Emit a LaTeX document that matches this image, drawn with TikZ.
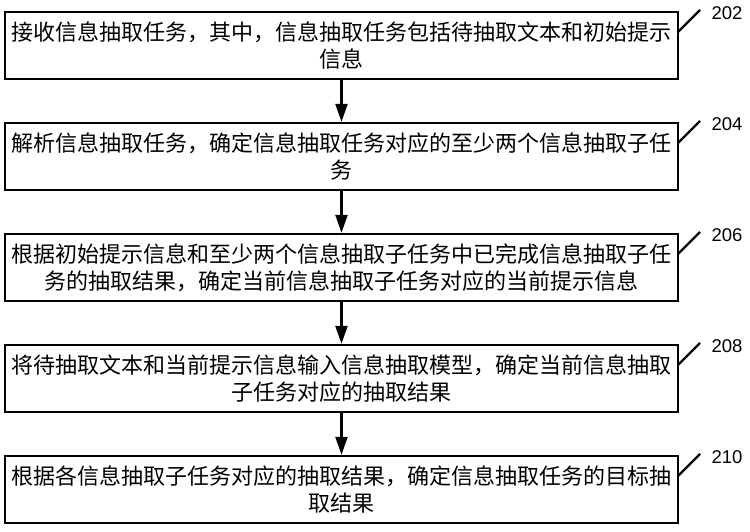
\documentclass[tikz,border=0pt]{standalone}
\usepackage{fontspec}
\setmainfont{Noto Sans CJK SC}
\newfontfamily\numfont{Liberation Sans}
\usetikzlibrary{arrows.meta}
\begin{document}
\begin{tikzpicture}[x=1pt,y=-1pt,
  stepbox/.style={draw=black, line width=2.4pt, minimum width=673pt, minimum height=67pt,
    inner sep=0pt, align=center, font=\fontsize{22}{27}\selectfont},
  flowarrow/.style={line width=2.4pt, -{Triangle[length=18pt,width=12pt]}},
  leader/.style={line width=2.2pt},
  numlabel/.style={font=\numfont\fontsize{18.5}{20}\selectfont, inner sep=0pt}
]
\useasboundingbox (0,0) rectangle (750,532);
\fill[white] (0,0) rectangle (750,532);

\node[stepbox] (b1) at (341.5,45.5) {接收信息抽取任务，其中，信息抽取任务包括待抽取文本和初始提示\\信息};
\node[stepbox] (b2) at (341.5,156.5) {解析信息抽取任务，确定信息抽取任务对应的至少两个信息抽取子任\\务};
\node[stepbox] (b3) at (341.5,267.5) {根据初始提示信息和至少两个信息抽取子任务中已完成信息抽取子任\\务的抽取结果，确定当前信息抽取子任务对应的当前提示信息};
\node[stepbox] (b4) at (341.5,378.5) {将待抽取文本和当前提示信息输入信息抽取模型，确定当前信息抽取\\子任务对应的抽取结果};
\node[stepbox] (b5) at (341.5,489.5) {根据各信息抽取子任务对应的抽取结果，确定信息抽取任务的目标抽\\取结果};

\draw[flowarrow] (b1.south) -- (b2.north);
\draw[flowarrow] (b2.south) -- (b3.north);
\draw[flowarrow] (b3.south) -- (b4.north);
\draw[flowarrow] (b4.south) -- (b5.north);

\foreach \b/\t/\n in {b1/12/202, b2/123/204, b3/234/206, b4/345/208, b5/456/210}{
  \coordinate (\b-s) at (678,\t+20);
  \coordinate (\b-e) at (700,\t-2);
  \draw[leader] (\b-s) -- (\b-e);
  \node[numlabel] (\b-lab) at (727,\t+1) {\n};
}
\end{tikzpicture}
\end{document}
